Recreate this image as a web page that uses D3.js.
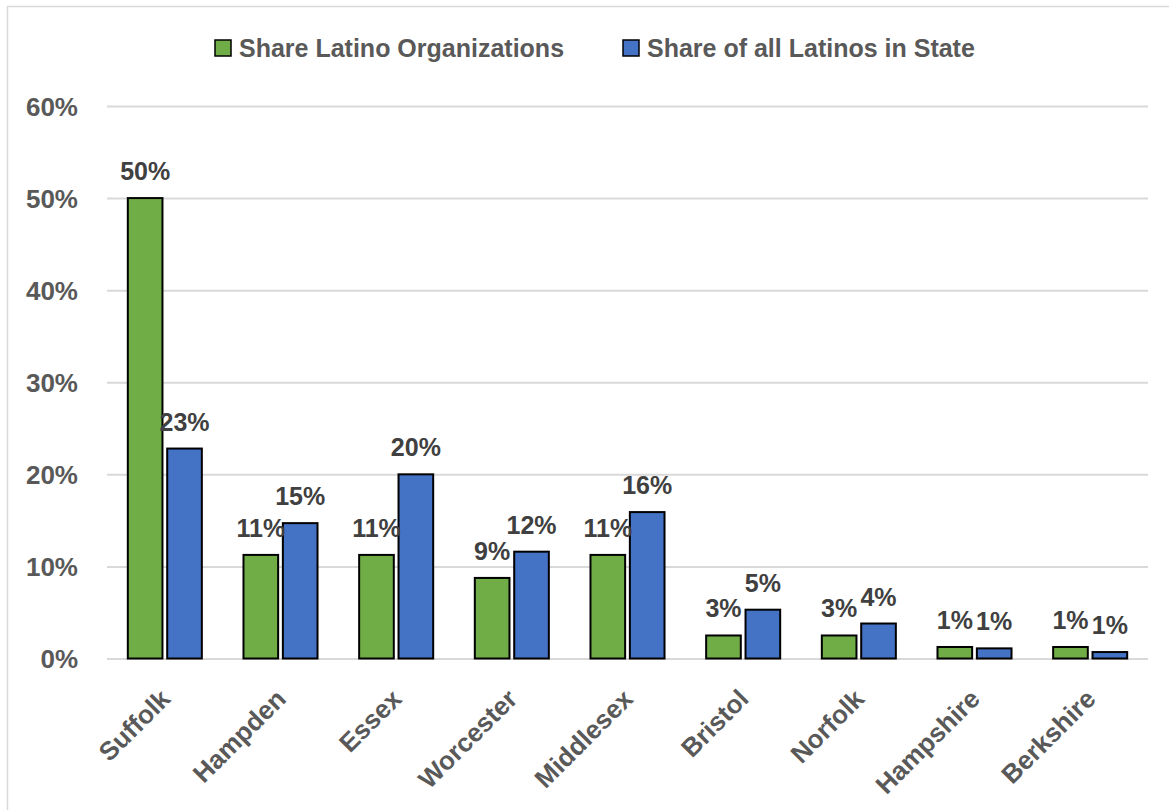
<!DOCTYPE html>
<html>
<head>
<meta charset="utf-8">
<script src="https://cdn.jsdelivr.net/npm/d3@7/dist/d3.min.js"></script>
<style>
  html, body { margin: 0; padding: 0; background: #fff; }
  svg { display: block; }
  text { font-family: "Liberation Sans", Arial, sans-serif; font-weight: bold; }
</style>
</head>
<body>
<svg id="chart" width="1169" height="810"></svg>
<script>
// Massachusetts counties
const counties = ["Suffolk", "Hampden", "Essex", "Worcester", "Middlesex", "Bristol", "Norfolk", "Hampshire", "Berkshire"];
// Percent of Latino organizations located in each county
const shareOrgs = [50, 11.25, 11.25, 8.75, 11.25, 2.5, 2.5, 1.25, 1.25];
// Percent of the state's Latino population living in each county
const shareLatinos = [22.8, 14.7, 20.0, 11.6, 15.9, 5.3, 3.8, 1.1, 0.7];
const seriesNames = ["Share Latino Organizations", "Share of all Latinos in State"];
const seriesColors = ["#70ad47", "#4472c4"];
const yTicks = [0, 10, 20, 30, 40, 50, 60];

const W = 1169, H = 810;
const margin = { left: 107, right: 21, top: 106, bottom: 151.5 };
const svg = d3.select("#chart");

// outer frame of the chart area
svg.append("path")
  .attr("d", `M7.5,${H + 2} V6.5 H${W + 2}`)
  .attr("fill", "none").attr("stroke", "#d9d9d9").attr("stroke-width", 1.5);

const x0 = d3.scaleBand().domain(counties)
  .range([margin.left, W - margin.right]).paddingInner(0.36).paddingOuter(0.18);
const x1 = d3.scaleBand().domain([0, 1]).range([0, x0.bandwidth()]).paddingInner(0.12);
const y = d3.scaleLinear().domain([0, 60]).range([H - margin.bottom, margin.top]);

// gridlines + y axis labels
const yAxis = d3.axisLeft(y).tickValues(yTicks).tickFormat(d => d + "%")
  .tickSize(-(W - margin.right - margin.left)).tickPadding(29);
const gy = svg.append("g").attr("transform", `translate(${margin.left},0)`).call(yAxis);
gy.select(".domain").remove();
gy.selectAll(".tick line").attr("stroke", "#d9d9d9").attr("stroke-width", 2);
gy.selectAll(".tick text").attr("fill", "#595959").attr("font-size", 26)
  .attr("dy", "0.36em");

// bars
const rows = counties.map((c, i) => ({ c, v: [shareOrgs[i], shareLatinos[i]] }));
const groups = svg.append("g").selectAll("g").data(rows).join("g")
  .attr("transform", d => `translate(${x0(d.c)},0)`);
groups.selectAll("rect").data(d => d.v.map((v, k) => ({ v, k }))).join("rect")
  .attr("x", d => x1(d.k)).attr("width", x1.bandwidth())
  .attr("y", d => y(d.v)).attr("height", d => y(0) - y(d.v))
  .attr("fill", d => seriesColors[d.k])
  .attr("stroke", "#000").attr("stroke-width", 2);
groups.selectAll("text").data(d => d.v.map((v, k) => ({ v, k }))).join("text")
  .attr("x", d => x1(d.k) + x1.bandwidth() / 2)
  .attr("y", d => y(d.v) - 18)
  .attr("text-anchor", "middle").attr("fill", "#404040").attr("font-size", 25)
  .text(d => Math.round(d.v) + "%");

// category labels
const xAxis = d3.axisBottom(x0).tickSize(0).tickPadding(0);
const gx = svg.append("g").attr("transform", `translate(0,${y(0)})`).call(xAxis);
gx.select(".domain").remove();
gx.selectAll(".tick text")
  .attr("fill", "#595959").attr("font-size", 26)
  .attr("text-anchor", "end")
  .attr("transform", `translate(7,42) rotate(-45)`)
  .attr("dy", 0).attr("y", 0).attr("x", 0);
// let the axis groups inherit the page font
svg.selectAll("g").filter(function () { return this.hasAttribute("font-family"); })
  .attr("font-family", null).attr("font-size", null);

// legend
const legend = svg.append("g");
const legendX = [215, 623];
seriesNames.forEach((name, k) => {
  const g = legend.append("g").attr("transform", `translate(${legendX[k]},40)`);
  g.append("rect").attr("width", 16).attr("height", 16)
    .attr("fill", seriesColors[k]).attr("stroke", "#000").attr("stroke-width", 1.5);
  g.append("text").attr("x", 24).attr("y", 17)
    .attr("fill", "#595959").attr("font-size", 25).text(name);
});
</script>
</body>
</html>
